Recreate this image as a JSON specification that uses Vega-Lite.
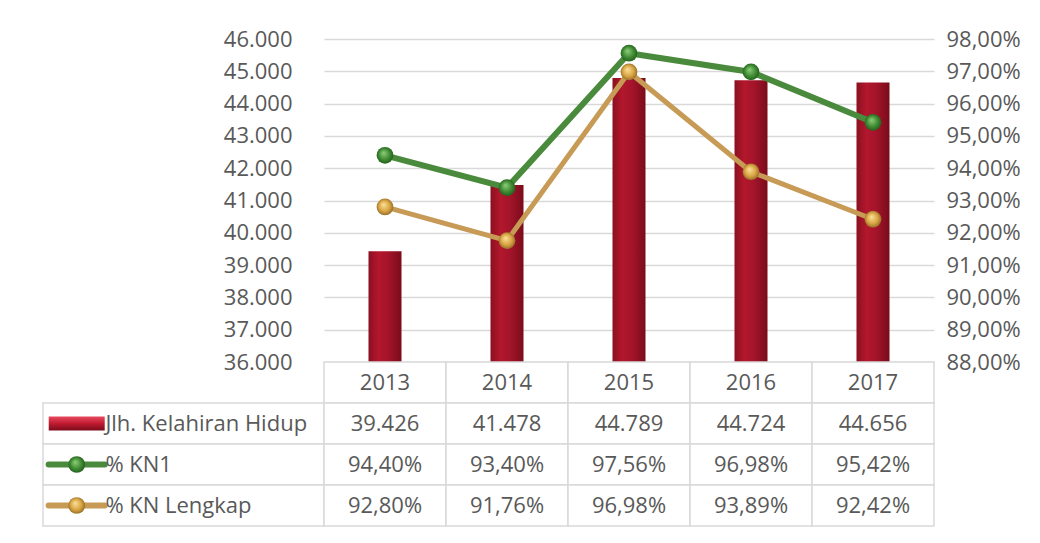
{
  "$schema": "https://vega.github.io/schema/vega-lite/v6.json",
  "padding": {"left": 42, "top": 28, "right": 5, "bottom": 5},
  "background": "white",
  "config": {
    "locale": {"number": {"decimal": ",", "thousands": ".", "grouping": [3], "currency": ["", ""]}},
    "view": {"stroke": null},
    "font": "Open Sans",
    "axis": {"labelFont": "Open Sans", "labelFontSize": 22, "labelColor": "#595959", "gridColor": "#d9d9d9", "gridWidth": 1.5, "domain": false, "ticks": false, "labelOverlap": false},
    "text": {"font": "Open Sans", "fontSize": 22, "fill": "#595959"}
  },
  "datasets": {
    "main": [
      {"year": "2013", "births": 39426, "kn1": 0.944, "knl": 0.928},
      {"year": "2014", "births": 41478, "kn1": 0.934, "knl": 0.9176},
      {"year": "2015", "births": 44789, "kn1": 0.9756, "knl": 0.9698},
      {"year": "2016", "births": 44724, "kn1": 0.9698, "knl": 0.9389},
      {"year": "2017", "births": 44656, "kn1": 0.9542, "knl": 0.9242}
    ],
    "legend": [
      {"series": "births", "name": "Jlh. Kelahiran Hidup"},
      {"series": "kn1", "name": "% KN1"},
      {"series": "knl", "name": "% KN Lengkap"}
    ]
  },
  "columns": 2,
  "spacing": 0,
  "bounds": "flush",
  "concat": [
    {
      "width": 281, "height": 323,
      "data": {"values": [{}]},
      "mark": {"type": "text"},
      "encoding": {"text": {"value": ""}}
    },
    {
      "width": 610, "height": 323,
      "data": {"name": "main"},
      "encoding": {"x": {"field": "year", "type": "nominal", "scale": {"paddingInner": 0, "paddingOuter": 0}, "axis": null}},
      "layer": [
        {
          "mark": {"type": "bar", "size": 33, "fill": {"gradient": "linear", "x1": 0, "y1": 0, "x2": 1, "y2": 0, "stops": [{"offset": 0, "color": "#8a1020"}, {"offset": 0.3, "color": "#b3172d"}, {"offset": 0.6, "color": "#a3142a"}, {"offset": 1, "color": "#7a0c1a"}]}},
          "encoding": {
            "y": {"field": "births", "type": "quantitative", "scale": {"domain": [36000, 46000], "zero": false, "nice": false},
                  "axis": {"orient": "left", "values": [36000, 37000, 38000, 39000, 40000, 41000, 42000, 43000, 44000, 45000, 46000], "format": ",.0f", "title": null, "labelPadding": 32, "labelOverlap": false}},
            "y2": {"datum": 36000}
          }
        },
        {
          "transform": [{"fold": ["kn1", "knl"], "as": ["series", "pct"]}],
          "layer": [
            {
              "transform": [{"filter": "datum.series == 'kn1'"}],
              "mark": {"type": "line", "color": "#4a8a3c", "strokeWidth": 6},
              "encoding": {"y": {"field": "pct", "type": "quantitative", "scale": {"domain": [0.88, 0.98], "zero": false, "nice": false},
                "axis": {"orient": "right", "values": [0.88, 0.89, 0.9, 0.91, 0.92, 0.93, 0.94, 0.95, 0.96, 0.97, 0.98], "format": ".2%", "title": null, "grid": false, "labelPadding": 12, "labelOverlap": false, "labelBound": false}}}
            },
            {
              "transform": [{"filter": "datum.series == 'kn1'"}],
              "mark": {"type": "point", "filled": true, "size": 280, "opacity": 1, "fill": {"gradient": "radial", "x1": 0.4, "y1": 0.35, "r1": 0, "x2": 0.5, "y2": 0.5, "r2": 0.55, "stops": [{"offset": 0, "color": "#8fd07a"}, {"offset": 0.6, "color": "#3f8a33"}, {"offset": 1, "color": "#1f5a18"}]}},
              "encoding": {"y": {"field": "pct", "type": "quantitative",
                "axis": {"orient": "right", "values": [0.88, 0.89, 0.9, 0.91, 0.92, 0.93, 0.94, 0.95, 0.96, 0.97, 0.98], "format": ".2%", "title": null, "grid": false, "labelPadding": 12, "labelOverlap": false, "labelBound": false}}}
            },
            {
              "transform": [{"filter": "datum.series == 'knl'"}],
              "mark": {"type": "line", "color": "#c79a55", "strokeWidth": 5},
              "encoding": {"y": {"field": "pct", "type": "quantitative",
                "axis": {"orient": "right", "values": [0.88, 0.89, 0.9, 0.91, 0.92, 0.93, 0.94, 0.95, 0.96, 0.97, 0.98], "format": ".2%", "title": null, "grid": false, "labelPadding": 12, "labelOverlap": false, "labelBound": false}}}
            },
            {
              "transform": [{"filter": "datum.series == 'knl'"}],
              "mark": {"type": "point", "filled": true, "size": 280, "opacity": 1, "fill": {"gradient": "radial", "x1": 0.4, "y1": 0.35, "r1": 0, "x2": 0.5, "y2": 0.5, "r2": 0.55, "stops": [{"offset": 0, "color": "#fbe39a"}, {"offset": 0.6, "color": "#d9a443"}, {"offset": 1, "color": "#8a6424"}]}},
              "encoding": {"y": {"field": "pct", "type": "quantitative",
                "axis": {"orient": "right", "values": [0.88, 0.89, 0.9, 0.91, 0.92, 0.93, 0.94, 0.95, 0.96, 0.97, 0.98], "format": ".2%", "title": null, "grid": false, "labelPadding": 12, "labelOverlap": false, "labelBound": false}}}
            }
          ]
        }
      ],
      "resolve": {"scale": {"y": "independent"}}
    },
    {
      "width": 281, "height": 164,
      "data": {"name": "legend"},
      "encoding": {
        "y": {"field": "series", "type": "nominal", "scale": {"domain": ["hdr", "births", "kn1", "knl"], "paddingInner": 0, "paddingOuter": 0}, "axis": null}
      },
      "layer": [
        {"mark": {"type": "rect", "fill": "white", "stroke": "#d9d9d9", "strokeWidth": 1.5}},
        {
          "transform": [{"filter": "datum.series == 'births'"}],
          "mark": {"type": "point", "filled": true, "opacity": 1, "shape": "M-1,-0.25H1V0.25H-1Z", "size": 3136, "fill": {"gradient": "linear", "x1": 0, "y1": 0, "x2": 0, "y2": 1, "stops": [{"offset": 0, "color": "#e84a5e"}, {"offset": 0.5, "color": "#c01a31"}, {"offset": 1, "color": "#7a0c1a"}]}},
          "encoding": {"x": {"datum": 0.12, "type": "quantitative", "scale": {"domain": [0, 1]}, "axis": null}}
        },
        {
          "transform": [{"filter": "datum.series == 'kn1'"}],
          "mark": {"type": "rule", "color": "#4a8a3c", "strokeWidth": 6, "strokeCap": "round"},
          "encoding": {"x": {"datum": 0.02, "type": "quantitative"}, "x2": {"datum": 0.22}}
        },
        {
          "transform": [{"filter": "datum.series == 'knl'"}],
          "mark": {"type": "rule", "color": "#c79a55", "strokeWidth": 6, "strokeCap": "round"},
          "encoding": {"x": {"datum": 0.02, "type": "quantitative"}, "x2": {"datum": 0.22}}
        },
        {
          "transform": [{"filter": "datum.series == 'kn1'"}],
          "mark": {"type": "point", "filled": true, "size": 280, "opacity": 1, "fill": {"gradient": "radial", "x1": 0.4, "y1": 0.35, "r1": 0, "x2": 0.5, "y2": 0.5, "r2": 0.55, "stops": [{"offset": 0, "color": "#8fd07a"}, {"offset": 0.6, "color": "#3f8a33"}, {"offset": 1, "color": "#1f5a18"}]}},
          "encoding": {"x": {"datum": 0.12, "type": "quantitative"}}
        },
        {
          "transform": [{"filter": "datum.series == 'knl'"}],
          "mark": {"type": "point", "filled": true, "size": 280, "opacity": 1, "fill": {"gradient": "radial", "x1": 0.4, "y1": 0.35, "r1": 0, "x2": 0.5, "y2": 0.5, "r2": 0.55, "stops": [{"offset": 0, "color": "#fbe39a"}, {"offset": 0.6, "color": "#d9a443"}, {"offset": 1, "color": "#8a6424"}]}},
          "encoding": {"x": {"datum": 0.12, "type": "quantitative"}}
        },
        {
          "mark": {"type": "text", "align": "left", "baseline": "middle"},
          "encoding": {"x": {"datum": 0.222, "type": "quantitative"}, "text": {"field": "name"}}
        }
      ]
    },
    {
      "width": 610, "height": 164,
      "data": {"name": "main"},
      "encoding": {
        "x": {"field": "year", "type": "nominal", "scale": {"paddingInner": 0, "paddingOuter": 0}, "axis": null}
      },
      "layer": [
        {
          "mark": {"type": "rect", "fill": "white", "stroke": "#d9d9d9", "strokeWidth": 1.5},
          "encoding": {"y": {"datum": "hdr", "type": "nominal", "scale": {"domain": ["hdr", "births", "kn1", "knl"], "paddingInner": 0, "paddingOuter": 0}, "axis": null}}
        },
        {
          "mark": {"type": "text", "baseline": "middle"},
          "encoding": {"y": {"datum": "hdr", "type": "nominal"}, "text": {"field": "year"}}
        },
        {
          "transform": [
            {"fold": ["births", "kn1", "knl"], "as": ["series", "value"]},
            {"calculate": "datum.series == 'births' ? format(datum.value, ',') : format(datum.value, '.2%')", "as": "label"}
          ],
          "layer": [
            {
              "mark": {"type": "rect", "fill": "white", "stroke": "#d9d9d9", "strokeWidth": 1.5},
              "encoding": {"y": {"field": "series", "type": "nominal"}}
            },
            {
              "mark": {"type": "text", "baseline": "middle"},
              "encoding": {"y": {"field": "series", "type": "nominal"}, "text": {"field": "label"}}
            }
          ]
        }
      ]
    }
  ]
}
